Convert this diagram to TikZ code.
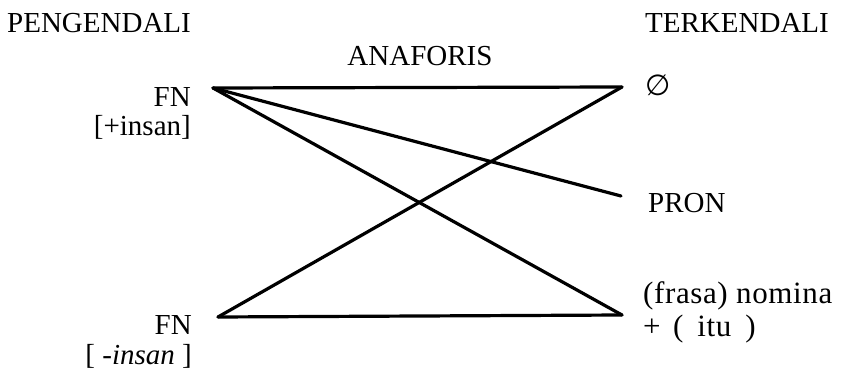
\documentclass[tikz,border=0pt]{standalone}
\usepackage{fontspec}
\setmainfont{Liberation Serif}
\newfontfamily\symfont{DejaVu Sans}
\begin{document}
\begin{tikzpicture}[x=1pt,y=-1pt,
  txt/.style={inner sep=0pt, font=\fontsize{29}{34}\selectfont},
  bigtxt/.style={inner sep=0pt, font=\fontsize{31}{36}\selectfont\addfontfeature{LetterSpace=2}},
  link/.style={line width=3.2pt, line cap=round, line join=round}]
\useasboundingbox (0,0) rectangle (844,371);
\node[txt, anchor=base west] (peng) at (7,33) {PENGENDALI};
\node[txt, anchor=base west] (terk) at (645,33) {TERKENDALI};
\node[txt, anchor=base] (ana) at (420,66) {ANAFORIS};
\node[txt, anchor=base east] (fn1) at (191,107) {FN};
\node[txt, anchor=base east] (ins1) at (191,136) {[+insan]};
\node[txt, anchor=base east] (fn2) at (192,335) {FN};
\node[txt, anchor=base east] (ins2) at (192,365) {[ -\textit{insan} ]};
\node[txt, anchor=base west] (nul) at (645,96) {\symfont ∅};
\node[txt, anchor=base west] (pron) at (648,213) {PRON};
\node[bigtxt, anchor=base west] (fras) at (643,304) {(frasa) nomina};
\node[bigtxt, anchor=base west] (itu) at (643,337) {+\hspace{0.4em}(\hspace{0.45em}itu\hspace{0.45em})};
\coordinate (a1) at (213,88);
\coordinate (a2) at (218,317);
\coordinate (b1) at (622,87);
\coordinate (b2) at (621,196);
\coordinate (b3) at (622,315);
\draw[link] (a1) -- (b1);
\draw[link] (a1) -- (b2);
\draw[link] (a1) -- (b3);
\draw[link] (a2) -- (b1);
\draw[link] (a2) -- (b3);
\end{tikzpicture}
\end{document}
